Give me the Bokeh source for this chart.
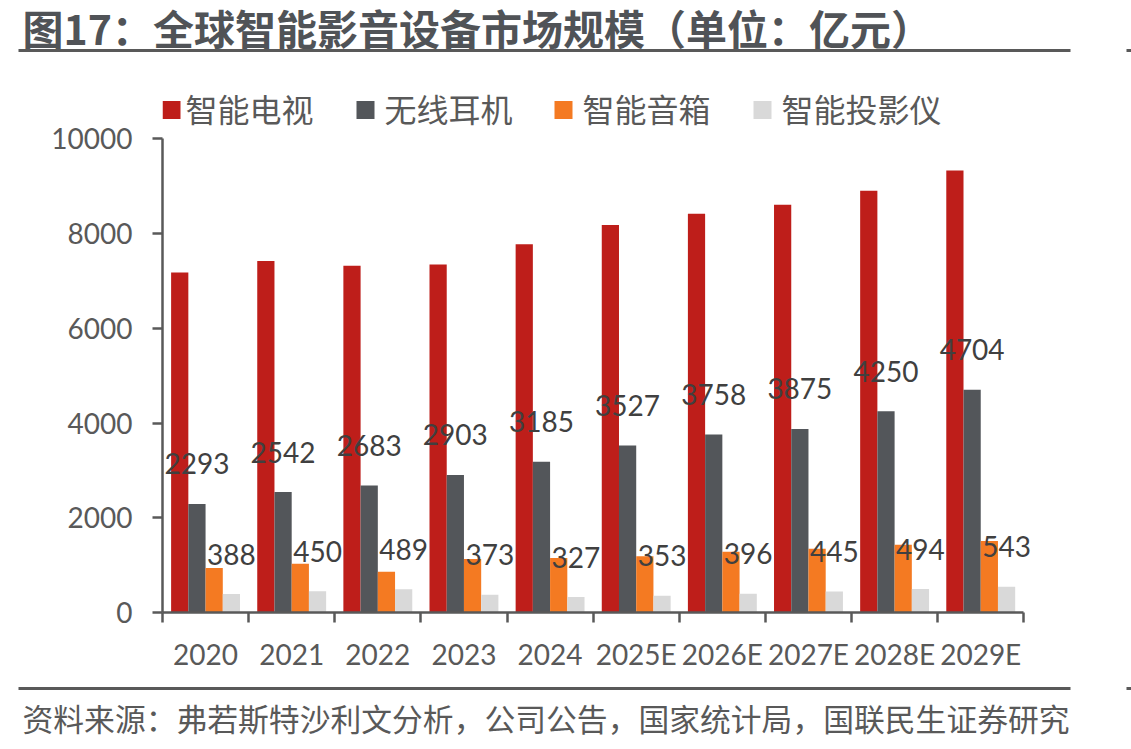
from bokeh.plotting import figure
from bokeh.layouts import column
from bokeh.models import ColumnDataSource, Range1d, FixedTicker
from bokeh.transform import dodge
from bokeh.core.properties import value
from bokeh.embed import file_html
from bokeh.resources import INLINE

# --- data (亿元) ---
years = ["2020", "2021", "2022", "2023", "2024",
         "2025E", "2026E", "2027E", "2028E", "2029E"]
smart_tv = [7180, 7420, 7320, 7345, 7775, 8180, 8420, 8610, 8905, 9330]
earbuds = [2293, 2542, 2683, 2903, 3185, 3527, 3758, 3875, 4250, 4704]
speakers = [940, 1030, 860, 1130, 1150, 1190, 1280, 1345, 1430, 1510]
projectors = [388, 450, 489, 373, 327, 353, 396, 445, 494, 543]
y_ticks = [0, 2000, 4000, 6000, 8000, 10000]
y_max = 10000

series_names = ["智能电视", "无线耳机", "智能音箱", "智能投影仪"]
colors = ["#BE1E1A", "#53565A", "#F47A22", "#D9D9D9"]

title_text = "图17：全球智能影音设备市场规模（单位：亿元）"
source_text = "资料来源：弗若斯特沙利文分析，公司公告，国家统计局，国联民生证券研究"

# --- page geometry (pixels) ---
W, H = 1131, 749
HEADER_H = 80           # title and rule
FOOTER_TOP = 676        # rule and source note below this
MAIN_H = FOOTER_TOP - HEADER_H
PLOT_LEFT, PLOT_RIGHT = 162, 1040   # frame edges of the bar chart
AXIS_TOP, PLOT_BOTTOM = 138.3, 612  # pixel rows of y = y_max and y = 0
CAT_RIGHT = 1023.3                  # pixel where the last category ends

CJK = "Noto Sans CJK SC"
NUM = "Lato"
AXIS_GRAY = "#595959"
TEXT_GRAY = "#404040"


def blank_panel(height, y0):
    """A figure whose data coordinates are page pixels (y grows downward)."""
    f = figure(width=W, height=height, title=None,
               x_range=Range1d(0, W), y_range=Range1d(y0 + height, y0),
               x_axis_type=None, y_axis_type=None,
               output_backend="svg", toolbar_location=None,
               min_border=0, min_border_left=0, min_border_right=0,
               min_border_top=0, min_border_bottom=0)
    f.frame_align = False
    f.grid.visible = False
    f.outline_line_color = None
    f.background_fill_color = "white"
    f.border_fill_color = "white"
    return f


# ---------------- header: title and rule ----------------
header = blank_panel(HEADER_H, 0)
header.text(x=[22], y=[26], text=[title_text], text_font=value(CJK),
            text_font_size="41px", text_font_style="bold",
            text_color="#505357", text_baseline="middle")
header.quad(left=[18, 1126], right=[1070, 1131], top=[48.5, 48.5],
            bottom=[51.5, 51.5], fill_color=AXIS_GRAY, line_color=None)

# ---------------- main bar chart ----------------
centers = [i + 0.5 for i in range(len(years))]
source = ColumnDataSource(dict(
    x=centers,
    tv=smart_tv,
    ear=earbuds,
    spk=speakers,
    proj=projectors,
    ear_lbl=[str(v) for v in earbuds],
    proj_lbl=[str(v) for v in projectors],
))

px_per_cat = (CAT_RIGHT - PLOT_LEFT) / len(years)
x_end = (PLOT_RIGHT - PLOT_LEFT) / px_per_cat
y_end = y_max * (PLOT_BOTTOM - HEADER_H) / (PLOT_BOTTOM - AXIS_TOP)

p = figure(width=W, height=MAIN_H, title=None,
           x_range=Range1d(0, x_end), y_range=Range1d(0, y_end),
           output_backend="svg", toolbar_location=None,
           min_border_left=PLOT_LEFT, min_border_right=W - PLOT_RIGHT,
           min_border_top=0, min_border_bottom=FOOTER_TOP - PLOT_BOTTOM)
p.frame_align = False
p.outline_line_color = None
p.background_fill_color = "white"
p.border_fill_color = "white"
p.xgrid.visible = False
p.ygrid.visible = False

# page-pixel ranges for the legend row that sits above the bars
p.extra_x_ranges = {"page_x": Range1d(PLOT_LEFT, PLOT_RIGHT)}
p.extra_y_ranges = {"page_y": Range1d(PLOT_BOTTOM, HEADER_H)}

offsets = [-0.3, -0.1, 0.1, 0.3]
fields = ["tv", "ear", "spk", "proj"]
for off, fld, col in zip(offsets, fields, colors):
    p.vbar(x=dodge("x", off), top=fld, width=0.2, source=source,
           fill_color=col, line_color=None)

# value labels for 无线耳机 and 智能投影仪
for off, fld in ((-0.1, "ear"), (0.3, "proj")):
    p.text(x=dodge("x", off), y=fld, text=fld + "_lbl",
           source=source, text_align="center", text_baseline="alphabetic",
           y_offset=-40, text_font=value(NUM), text_font_size="28px",
           text_color=TEXT_GRAY)

# legend row
legend_x = [162, 356, 554, 753]
p.quad(left=legend_x, right=[x + 18 for x in legend_x],
       top=[100.5] * 4, bottom=[118.5] * 4,
       fill_color=colors, line_color=None,
       x_range_name="page_x", y_range_name="page_y")
p.text(x=[x + 28 for x in [157, 356, 554, 753]], y=[107] * 4, text=series_names,
       text_font=value(CJK), text_font_size="32px",
       text_color=AXIS_GRAY, text_baseline="middle",
       x_range_name="page_x", y_range_name="page_y")

yax = p.yaxis[0]
yax.bounds = (0, y_max)
yax.ticker = FixedTicker(ticks=y_ticks)
yax.axis_line_color = AXIS_GRAY
yax.axis_line_width = 2.5
yax.major_tick_line_color = AXIS_GRAY
yax.major_tick_line_width = 2.5
yax.major_tick_out = 10
yax.major_tick_in = 0
yax.minor_tick_line_color = None
yax.major_label_text_font = NUM
yax.major_label_text_font_size = "28px"
yax.major_label_text_color = AXIS_GRAY
yax.major_label_standoff = 20

xax = p.xaxis[0]
xax.bounds = (0, len(years))
xax.ticker = FixedTicker(ticks=centers, minor_ticks=list(range(len(years) + 1)))
xax.major_label_overrides = {c: y for c, y in zip(centers, years)}
xax.axis_line_color = AXIS_GRAY
xax.axis_line_width = 2.5
xax.major_tick_line_color = None
xax.minor_tick_line_color = AXIS_GRAY
xax.minor_tick_line_width = 2.5
xax.minor_tick_out = 10
xax.minor_tick_in = 0
xax.major_label_text_font = NUM
xax.major_label_text_font_size = "28px"
xax.major_label_text_color = AXIS_GRAY
xax.major_label_standoff = 14

# ---------------- footer: rule and source note ----------------
footer = blank_panel(H - FOOTER_TOP, FOOTER_TOP)
footer.quad(left=[18, 1126], right=[1070, 1131], top=[686.5, 686.5],
            bottom=[689.5, 689.5], fill_color=AXIS_GRAY, line_color=None)
footer.text(x=[22], y=[717], text=[source_text], text_font=value(CJK),
            text_font_size="30.8px", text_color=AXIS_GRAY,
            text_baseline="middle")

layout = column(header, p, footer, spacing=0)
open("out.html", "w").write(file_html(layout, INLINE))
